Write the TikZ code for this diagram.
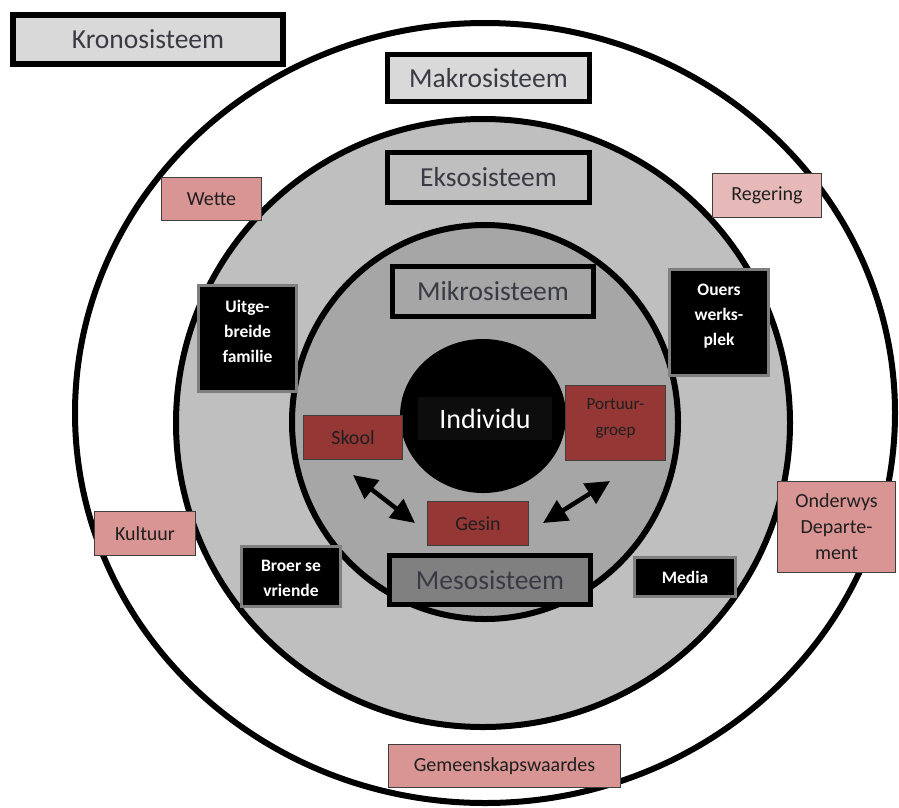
\documentclass[tikz,border=0pt]{standalone}
\usepackage{fontspec}
\setmainfont{Carlito}
\usetikzlibrary{arrows.meta}
\definecolor{lgray}{HTML}{D9D9D9}
\definecolor{mgray}{HTML}{BFBFBF}
\definecolor{dgray}{HTML}{A6A6A6}
\definecolor{ggray}{HTML}{808080}
\definecolor{redbox}{HTML}{953735}
\definecolor{pinkbox}{HTML}{D99594}
\definecolor{lpinkbox}{HTML}{E6B9B8}
\definecolor{labtxt}{HTML}{3A3A44}
\definecolor{darktxt}{HTML}{1F1F1F}
\definecolor{boxedge}{HTML}{3F3F3F}
\definecolor{blkedge}{HTML}{7F7F7F}
\definecolor{indiv}{HTML}{0D0D0D}
\begin{document}
\begin{tikzpicture}[x=1pt,y=-1pt,
  sysbox/.style={draw=black,line width=5.5pt,text=labtxt,inner sep=0pt,
    font=\fontsize{27.5}{30}\selectfont},
  thinbox/.style={draw=boxedge,line width=1.5pt,text=darktxt,inner sep=0pt,
    align=center,font=\fontsize{20}{26}\selectfont},
  blkbox/.style={draw=blkedge,line width=3pt,fill=black,inner sep=0pt},
  wtext/.style={text=white,align=center,inner sep=0pt,
    font=\fontsize{17.5}{25}\selectfont\bfseries},
  dblarrow/.style={line width=4.5pt,{Triangle[length=24pt,width=23pt]}-{Triangle[length=24pt,width=23pt]}},
  ring/.style={draw=black,line width=6pt}
]
\useasboundingbox (0,0) rectangle (899,807);
% circles
\draw[ring,fill=white] (485,413) ellipse [x radius=410,y radius=390];
\draw[ring,fill=mgray] (483,423) ellipse [x radius=307,y radius=304];
\draw[ring,fill=dgray] (485,422) ellipse [x radius=193,y radius=197];
\fill[black] (483,416) ellipse [x radius=83,y radius=77];
% system labels
\node[sysbox,fill=lgray,minimum width=270,minimum height=49] (krono) at (148,39.5) {Kronosisteem};
\node[sysbox,fill=lgray,minimum width=202,minimum height=47] (makro) at (488.5,78) {Makrosisteem};
\node[sysbox,fill=mgray,minimum width=202,minimum height=50] (ekso) at (488.5,177.5) {Eksosisteem};
\node[sysbox,fill=dgray,minimum width=201,minimum height=50] (mikro) at (493,291.5) {Mikrosisteem};
\node[sysbox,fill=ggray,minimum width=201,minimum height=49] (meso) at (490,580) {Mesosisteem};
% individual
\node[fill=indiv,text=white,inner sep=0pt,minimum width=134,minimum height=43,
  font=\fontsize{28}{30}\selectfont] (individu) at (485,418.5) {Individu};
% pink boxes
\node[thinbox,fill=pinkbox,minimum width=100,minimum height=43] (wette) at (211.5,199) {Wette};
\node[thinbox,fill=lpinkbox,minimum width=109,minimum height=44] (regering) at (767,195.5) {Regering};
\node[thinbox,fill=pinkbox,minimum width=101,minimum height=44] (kultuur) at (145,533.5) {Kultuur};
\node[thinbox,fill=pinkbox,minimum width=118,minimum height=91] (onderwys) at (836.5,527) {Onderwys\\Departe-\\ment};
\node[thinbox,fill=pinkbox,minimum width=232,minimum height=43] (gemeen) at (504.5,766) {Gemeenskapswaardes};
% red boxes
\node[thinbox,fill=redbox,minimum width=99,minimum height=44] (skool) at (353,437.5) {Skool};
\node[thinbox,fill=redbox,minimum width=100,minimum height=75] (portuur) at (615.5,423) {};
\node[text=darktxt,align=center,inner sep=0pt,font=\fontsize{17}{26}\selectfont] (portuurt) at (615.5,418) {Portuur-\\groep};
\node[thinbox,fill=redbox,minimum width=101,minimum height=44] (gesin) at (478,523.5) {Gesin};
% black boxes
\node[blkbox,minimum width=98,minimum height=106] (uitge) at (247.5,338.5) {};
\node[wtext] (uitget) at (247.5,331) {Uitge-\\breide\\familie};
\node[blkbox,minimum width=99,minimum height=106] (ouers) at (719,322.5) {};
\node[wtext] (ouerst) at (719,316) {Ouers\\werks-\\plek};
\node[blkbox,minimum width=99,minimum height=60] (broer) at (291,576.5) {};
\node[wtext] (broert) at (291,578) {Broer se\\vriende};
\node[blkbox,minimum width=101,minimum height=39] (media) at (685,577) {};
\node[wtext] (mediat) at (685,577) {Media};
% arrows
\coordinate (a1) at (353,475);
\coordinate (a2) at (415,523);
\coordinate (b1) at (543,523);
\coordinate (b2) at (610,481);
\draw[dblarrow] (a1) -- (a2);
\draw[dblarrow] (b1) -- (b2);
\end{tikzpicture}
\end{document}
